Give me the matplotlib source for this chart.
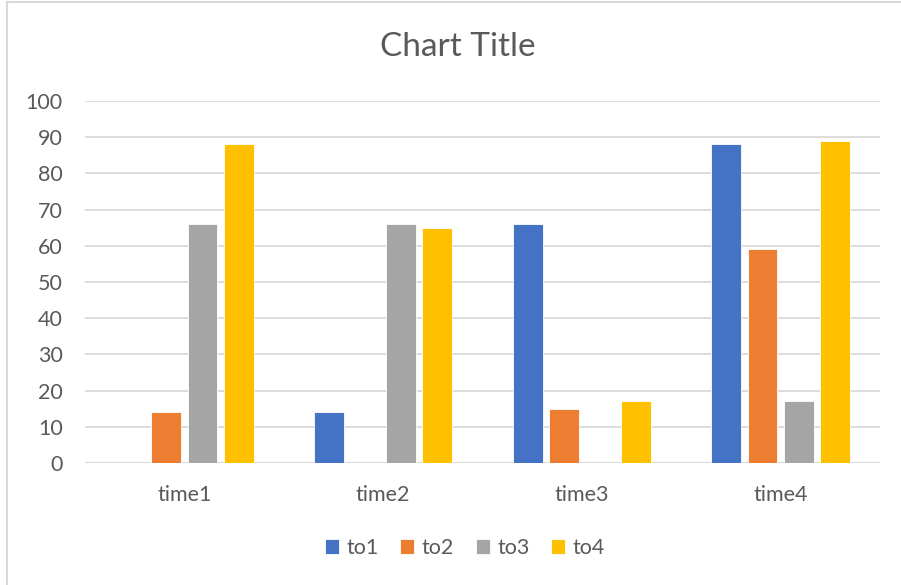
import matplotlib.pyplot as plt
import numpy as np
from matplotlib.lines import Line2D

categories = ['time1', 'time2', 'time3', 'time4']
series = ['to1', 'to2', 'to3', 'to4']
to1 = [0, 14, 66, 88]
to2 = [14, 0, 15, 59]
to3 = [66, 66, 0, 17]
to4 = [88, 65, 17, 89]
colors = ['#4472C4', '#ED7D31', '#A5A5A5', '#FFC000']

plt.rcParams['font.family'] = ['Lato', 'DejaVu Sans']
txt = '#595959'
grid = '#D9D9D9'

fig = plt.figure(figsize=(9.01, 5.85), dpi=100)
ax = fig.add_axes([85 / 901, 122 / 585, 795 / 901, 362 / 585])

x = np.arange(len(categories))
step = 0.182
for k, (name, vals) in enumerate(zip(series, [to1, to2, to3, to4])):
    ax.bar(x + (k - 1.5) * step, vals, width=0.15, color=colors[k],
           edgecolor='white', linewidth=0.6, label=name, zorder=3)

ax.set_xlim(-0.5, 3.5)
ax.set_ylim(0, 100)
ax.set_yticks(range(0, 101, 10))
ax.set_xticks(x)
ax.set_xticklabels(categories)
ax.yaxis.grid(True, color=grid, linewidth=1.3, zorder=0)
for s in ax.spines.values():
    s.set_visible(False)
ax.axhline(0, color=grid, linewidth=1.5, zorder=2)
ax.tick_params(axis='both', length=0, labelsize=15.5, colors=txt)
ax.tick_params(axis='y', pad=16)
ax.tick_params(axis='x', pad=16)

fig.text(458 / 901, 1 - 47 / 585, 'Chart Title', ha='center', va='center',
         fontsize=24, color=txt)

fig.legend(loc='center', bbox_to_anchor=(465 / 901, 1 - 548 / 585), ncol=4,
           frameon=False, fontsize=15.5, labelcolor=txt, handlelength=0.65,
           handleheight=0.65, handletextpad=0.35, columnspacing=1.0)

# chart frame
fig.add_artist(Line2D([7 / 901, 7 / 901], [0, 1 - 2 / 585], color=grid, lw=1.5))
fig.add_artist(Line2D([7 / 901, 1], [1 - 2 / 585, 1 - 2 / 585], color=grid, lw=1.5))

fig.savefig('out.png', dpi=100)
